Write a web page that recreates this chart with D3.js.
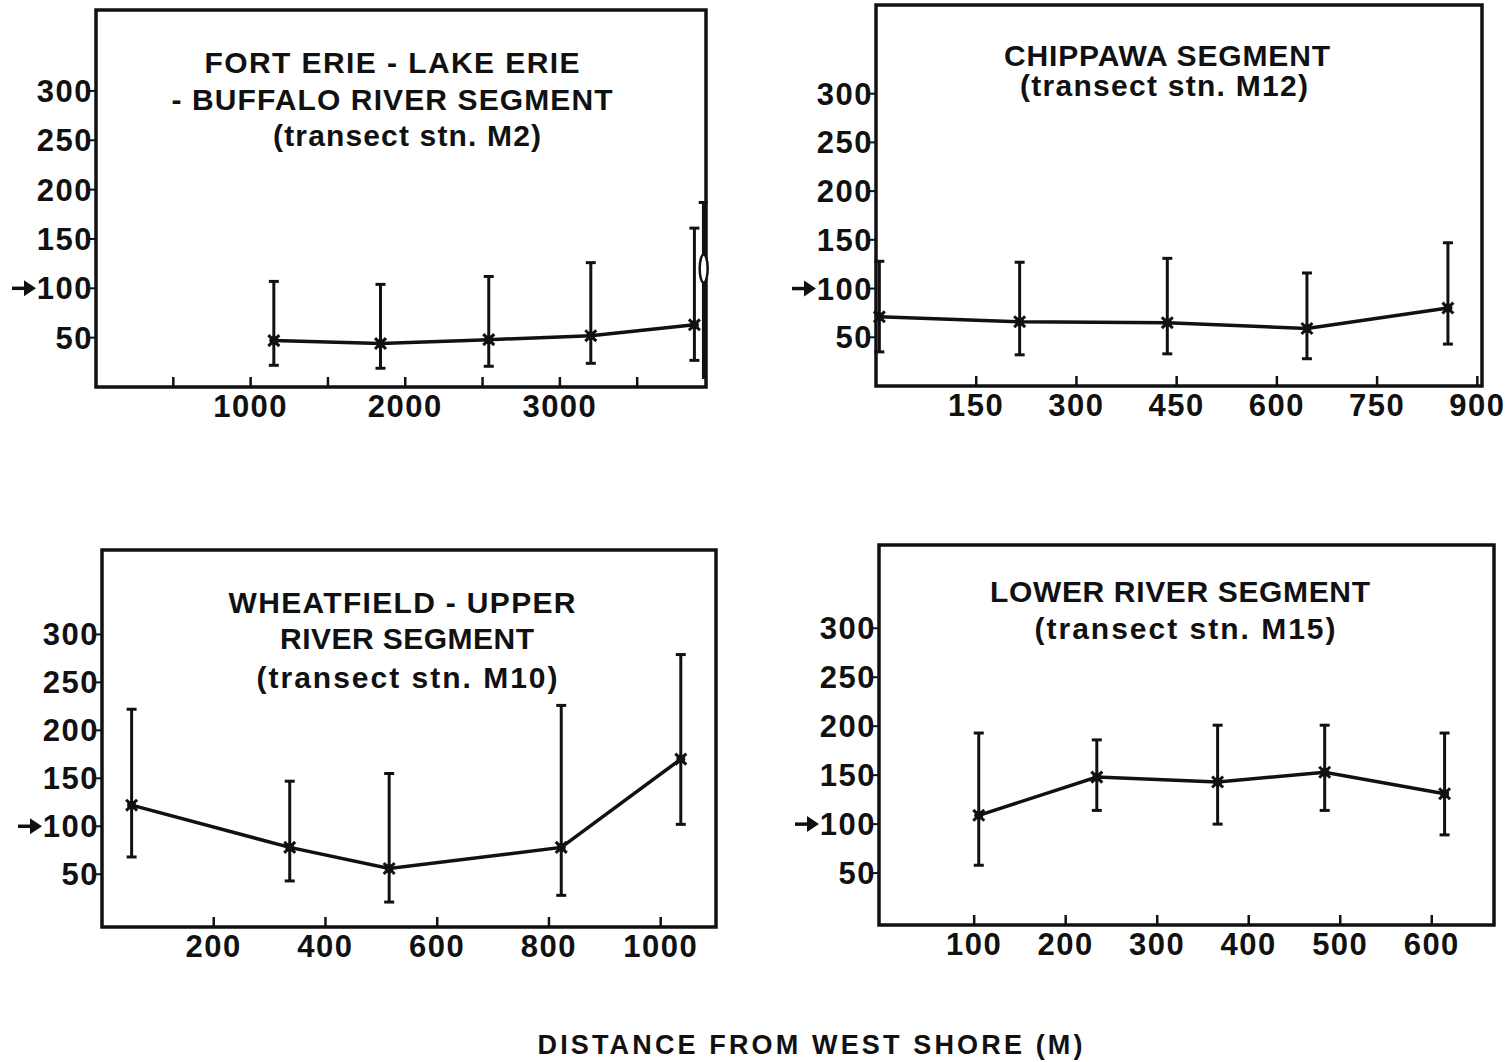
<!DOCTYPE html>
<html>
<head>
<meta charset="utf-8">
<script src="https://cdn.jsdelivr.net/npm/d3@7"></script>
<style>
  body { margin: 0; background: #fff; }
  text { font-family: "Liberation Sans", Arial, Helvetica, sans-serif; font-weight: bold; fill: #111; }
</style>
</head>
<body>
<svg id="chart" width="1510" height="1062"></svg>
<script>
// ---- data (distance in m, value on y) ----
var fortErieX    = [1150, 1840, 2540, 3200, 3870];
var fortErieMean = [47, 44, 48, 52, 63];
var fortErieLo   = [22, 19, 21, 24, 27];
var fortErieHi   = [107, 104, 112, 126, 161];
// extra bar hugging the right edge of the first panel
var fortErieEdgeX    = [3930];
var fortErieEdgeMean = [120];
var fortErieEdgeLo   = [8];
var fortErieEdgeHi   = [187];

var chippawaX    = [5, 215, 436, 645, 856];
var chippawaMean = [71, 66, 65, 59, 80];
var chippawaLo   = [35, 32, 33, 28, 43];
var chippawaHi   = [128, 127, 131, 116, 147];

var wheatfieldX    = [53, 336, 514, 822, 1036];
var wheatfieldMean = [122, 78, 56, 78, 170];
var wheatfieldLo   = [68, 43, 21, 28, 102];
var wheatfieldHi   = [222, 147, 155, 226, 279];

var lowerX    = [105, 234, 366, 483, 614];
var lowerMean = [109, 148, 143, 153, 131];
var lowerLo   = [58, 114, 100, 114, 89];
var lowerHi   = [193, 186, 201, 201, 193];

var yTicks = [50, 100, 150, 200, 250, 300];
var fortErieTicks = [500, 1000, 1500, 2000, 2500, 3000, 3500];
var fortErieLabels = [1000, 2000, 3000];
var chippawaTicks = [150, 300, 450, 600, 750, 900];
var wheatfieldTicks = [200, 400, 600, 800, 1000];
var lowerTicks = [100, 200, 300, 400, 500, 600];

var axisTitle = "DISTANCE FROM WEST SHORE (M)";

var svg = d3.select("#chart");

var panels = [
  { box: [96, 10, 706, 387], xDom: [0, 3945], yDom: [0, 382],
    x: fortErieX, mean: fortErieMean, lo: fortErieLo, hi: fortErieHi,
    ticks: fortErieTicks, labels: fortErieLabels,
    title: [["FORT ERIE - LAKE ERIE", 392, 73, 375],
            ["- BUFFALO RIVER SEGMENT", 392, 110, 441],
            ["(transect stn. M2)", 407, 146, 268]] },
  { box: [876, 5, 1482, 386], xDom: [0, 907], yDom: [0, 391],
    x: chippawaX, mean: chippawaMean, lo: chippawaLo, hi: chippawaHi,
    ticks: chippawaTicks, labels: chippawaTicks,
    title: [["CHIPPAWA SEGMENT", 1167, 66, 326],
            ["(transect stn. M12)", 1164, 96, 288]] },
  { box: [102, 550, 716, 927], xDom: [0, 1099], yDom: [-5, 388],
    x: wheatfieldX, mean: wheatfieldMean, lo: wheatfieldLo, hi: wheatfieldHi,
    ticks: wheatfieldTicks, labels: wheatfieldTicks,
    title: [["WHEATFIELD - UPPER", 402, 613, 347],
            ["RIVER SEGMENT", 407, 649, 254],
            ["(transect stn. M10)", 407, 688, 301]] },
  { box: [879, 545, 1494, 925], xDom: [-4, 668], yDom: [-3, 385],
    x: lowerX, mean: lowerMean, lo: lowerLo, hi: lowerHi,
    ticks: lowerTicks, labels: lowerTicks,
    title: [["LOWER RIVER SEGMENT", 1180, 602, 380],
            ["(transect stn. M15)", 1185, 639, 301]] }
];

panels.forEach(drawPanel);

// edge bar in the first panel
(function(){
  var p = panels[0];
  var g = svg.append("g");
  fortErieEdgeX.forEach(function(v, i){
    g.append("line")
      .attr("x1", p.xs(v)).attr("x2", p.xs(v))
      .attr("y1", p.ys(fortErieEdgeLo[i])).attr("y2", p.ys(fortErieEdgeHi[i]))
      .attr("stroke", "#111").attr("stroke-width", 3.5);
    g.append("line")
      .attr("x1", p.xs(v) - 5).attr("x2", p.xs(v) + 4)
      .attr("y1", p.ys(fortErieEdgeHi[i])).attr("y2", p.ys(fortErieEdgeHi[i]))
      .attr("stroke", "#111").attr("stroke-width", 3);
    g.append("ellipse")
      .attr("cx", p.xs(v)).attr("cy", p.ys(fortErieEdgeMean[i]))
      .attr("rx", 4).attr("ry", 14)
      .attr("fill", "#fff").attr("stroke", "#111").attr("stroke-width", 2.5);
  });
})();

svg.append("text")
  .attr("x", 810).attr("y", 1054)
  .attr("text-anchor", "middle")
  .attr("font-size", 27)
  .attr("textLength", 545).attr("lengthAdjust", "spacing")
  .text(axisTitle);

function drawPanel(p) {
  var left = p.box[0], top = p.box[1], right = p.box[2], bottom = p.box[3];
  var xs = d3.scaleLinear().domain(p.xDom).range([left, right]);
  var ys = d3.scaleLinear().domain(p.yDom).range([bottom, top]);
  p.xs = xs; p.ys = ys;
  var g = svg.append("g");

  // frame
  g.append("rect")
    .attr("x", left).attr("y", top)
    .attr("width", right - left).attr("height", bottom - top)
    .attr("fill", "none").attr("stroke", "#111").attr("stroke-width", 3.5);

  // y axis ticks + labels
  yTicks.forEach(function(t){
    g.append("line")
      .attr("x1", left - 6).attr("x2", left)
      .attr("y1", ys(t)).attr("y2", ys(t))
      .attr("stroke", "#111").attr("stroke-width", 2);
    g.append("text")
      .attr("x", left - 3).attr("y", ys(t) + 11)
      .attr("text-anchor", "end")
      .attr("font-size", 31)
      .attr("letter-spacing", 1.5)
      .text(t);
  });

  // arrow pointing at 100
  var ay = ys(100);
  var tip = left - 60;
  g.append("line")
    .attr("x1", tip - 24).attr("x2", tip - 8)
    .attr("y1", ay).attr("y2", ay)
    .attr("stroke", "#111").attr("stroke-width", 3.5);
  g.append("path")
    .attr("d", "M" + tip + "," + ay + "L" + (tip - 12) + "," + (ay - 8) + "L" + (tip - 12) + "," + (ay + 8) + "Z")
    .attr("fill", "#111");

  // x axis ticks (inside) + labels
  p.ticks.forEach(function(t){
    g.append("line")
      .attr("x1", xs(t)).attr("x2", xs(t))
      .attr("y1", bottom).attr("y2", bottom - 10)
      .attr("stroke", "#111").attr("stroke-width", 2.5);
  });
  p.labels.forEach(function(t){
    g.append("text")
      .attr("x", xs(t)).attr("y", bottom + 30)
      .attr("text-anchor", "middle")
      .attr("font-size", 31)
      .attr("letter-spacing", 1.5)
      .text(t);
  });

  // title
  p.title.forEach(function(l){
    g.append("text")
      .attr("x", l[1]).attr("y", l[2])
      .attr("text-anchor", "middle")
      .attr("font-size", 30)
      .attr("textLength", l[3]).attr("lengthAdjust", "spacing")
      .text(l[0]);
  });

  // error bars
  p.x.forEach(function(v, i){
    var cx = xs(v);
    g.append("line")
      .attr("x1", cx).attr("x2", cx)
      .attr("y1", ys(p.lo[i])).attr("y2", ys(p.hi[i]))
      .attr("stroke", "#111").attr("stroke-width", 3);
    [p.lo[i], p.hi[i]].forEach(function(c){
      g.append("line")
        .attr("x1", cx - 5).attr("x2", cx + 5)
        .attr("y1", ys(c)).attr("y2", ys(c))
        .attr("stroke", "#111").attr("stroke-width", 3);
    });
  });

  // mean line
  var line = d3.line()
    .x(function(d){ return xs(d[0]); })
    .y(function(d){ return ys(d[1]); });
  g.append("path")
    .datum(d3.zip(p.x, p.mean))
    .attr("d", line)
    .attr("fill", "none").attr("stroke", "#111").attr("stroke-width", 3.5);

  // markers
  g.selectAll(null)
    .data(d3.zip(p.x, p.mean))
    .enter().append("path")
    .attr("transform", function(d){ return "translate(" + xs(d[0]) + "," + ys(d[1]) + ")"; })
    .attr("d", d3.symbol(d3.symbolTimes, 80))
    .attr("fill", "none").attr("stroke", "#111").attr("stroke-width", 3);
  g.selectAll(null)
    .data(d3.zip(p.x, p.mean))
    .enter().append("circle")
    .attr("cx", function(d){ return xs(d[0]); })
    .attr("cy", function(d){ return ys(d[1]); })
    .attr("r", 4.5)
    .attr("fill", "#111");
}
</script>
</body>
</html>
